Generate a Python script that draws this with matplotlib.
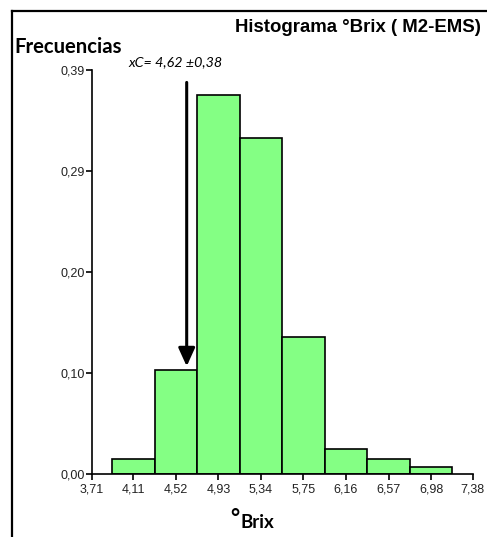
import matplotlib
matplotlib.use("Agg")
import matplotlib.pyplot as plt
from matplotlib.lines import Line2D

# ---- data ----
bin_centers = [4.11, 4.52, 4.93, 5.34, 5.75, 6.16, 6.57, 6.98]
frequencies = [0.014, 0.100, 0.366, 0.324, 0.132, 0.024, 0.014, 0.007]
bin_width = 0.41
x_ticks = [3.71, 4.11, 4.52, 4.93, 5.34, 5.75, 6.16, 6.57, 6.98, 7.38]
x_tick_labels = ["3,71", "4,11", "4,52", "4,93", "5,34", "5,75", "6,16", "6,57", "6,98", "7,38"]
y_ticks = [0.0, 0.0975, 0.195, 0.2925, 0.39]
y_tick_labels = ["0,00", "0,10", "0,20", "0,29", "0,39"]
xc_value = 4.625
arrow_top = 0.378
arrow_tip = 0.104

W, H = 487, 537
fig = plt.figure(figsize=(W / 100, H / 100), dpi=100)
ax = fig.add_axes([91.7 / W, 1 - 474 / H, (472.7 - 91.7) / W, (474 - 70) / H])

ax.bar(bin_centers, frequencies, width=bin_width, color="#84ff84",
       edgecolor="black", linewidth=1.2, zorder=2)

ax.set_xlim(x_ticks[0], x_ticks[-1])
ax.set_ylim(0, y_ticks[-1])
ax.set_xticks(x_ticks)
ax.set_xticklabels(x_tick_labels, fontsize=9, family="Liberation Sans", color="#222222")
ax.set_yticks(y_ticks)
ax.set_yticklabels(y_tick_labels, fontsize=9, family="Liberation Sans", color="#222222")
ax.tick_params(axis="x", direction="out", length=4, width=1.2, pad=2.5)
ax.tick_params(axis="y", direction="out", length=4, width=1.2, pad=1)
for s in ["top", "right"]:
    ax.spines[s].set_visible(False)
for s in ["left", "bottom"]:
    ax.spines[s].set_linewidth(1.2)
ax.patch.set_alpha(0)

# arrow
ax.annotate("", xy=(xc_value, arrow_tip), xytext=(xc_value, arrow_top),
            arrowprops=dict(arrowstyle="-|>,head_width=0.5,head_length=1.1",
                            color="black", lw=2.2, shrinkA=0, shrinkB=0),
            zorder=3)

# texts
fig.text(481 / W, 1 - 27 / H, "Histograma °Brix ( M2-EMS)", ha="right", va="center",
         fontsize=13.4, fontweight="bold", family="Liberation Sans")
fig.text(14 / W, 1 - 47 / H, "Frecuencias", ha="left", va="center",
         fontsize=14.6, fontweight="bold", family="Lato")
fig.text(128 / W, 1 - 62 / H, "xC= 4,62 ±0,38", ha="left", va="center",
         fontsize=10.3, style="italic", family="Lato")
fig.text(230 / W, 1 - 518 / H, "°", ha="left", va="center",
         fontsize=16, fontweight="bold", family="Lato")
fig.text(240 / W, 1 - 523 / H, "Brix", ha="left", va="center",
         fontsize=13.5, fontweight="bold", family="Lato")

# outer frame (cropped on right and bottom)
fig.add_artist(Line2D([12 / W, 1.0], [1 - 10.5 / H, 1 - 10.5 / H], color="black", lw=1.6,
                      transform=fig.transFigure))
fig.add_artist(Line2D([12 / W, 12 / W], [1 - 10.5 / H, 0.0], color="black", lw=1.6,
                      transform=fig.transFigure))

fig.savefig("out.png", dpi=100)
